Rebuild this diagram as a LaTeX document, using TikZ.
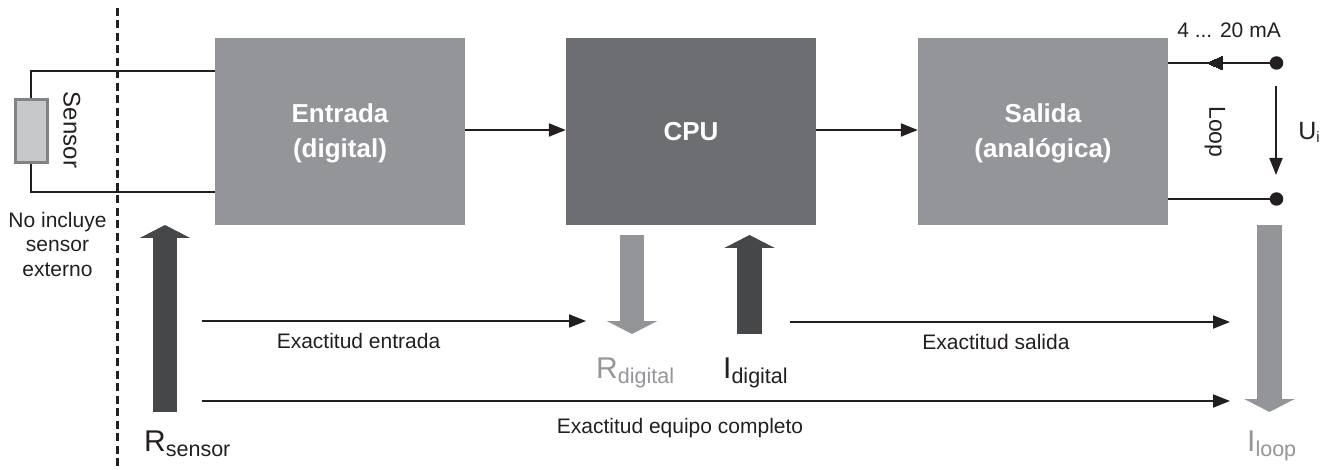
\documentclass[tikz,border=0pt]{standalone}
\usepackage{fontspec}
\setmainfont{Liberation Sans}
\usetikzlibrary{arrows.meta}
\definecolor{boxgray}{HTML}{939598}
\definecolor{cpugray}{HTML}{6D6E71}
\definecolor{darkarrow}{HTML}{464749}
\definecolor{sensorfill}{HTML}{C7C8CA}
\definecolor{sensorline}{HTML}{808285}
\definecolor{ink}{HTML}{231F20}
\newcommand{\subtxt}[2]{{\fontsize{30}{32}\selectfont #1}{\fontsize{21.5}{24}\selectfont\raisebox{-5pt}{#2}}}
\tikzset{
  x=1pt,y=-1pt,
  every node/.style={text=ink,font=\fontsize{21}{24.5}\selectfont,inner sep=0pt,align=center},
  block/.style={fill=boxgray,minimum width=250pt,minimum height=187pt},
  blocktext/.style={text=white,font=\fontsize{26}{35}\selectfont\bfseries},
  wire/.style={draw=ink,line width=2pt},
  thin arrow/.style={wire,-{Triangle[length=17pt,width=13pt]}},
  block arrow/.style={line width=24.5pt,-{Triangle[length=13pt,width=50pt]}},
  dot/.style={circle,fill=ink,minimum size=13.5pt},
}
\begin{document}
\begin{tikzpicture}
\useasboundingbox (0,0) rectangle (1330,470);
\draw[ink,line width=2.4pt,dash pattern=on 8pt off 4.5pt] (117.5,8) coordinate (d1) -- (117.5,470) coordinate (d2);

\node[block] (entrada) at (340,131.5) {};
\node[blocktext] (entradat) at (340,133) {Entrada\\(digital)};
\node[block,fill=cpugray] (cpu) at (691,131.5) {};
\node[blocktext] (cput) at (691,131.5) {CPU};
\node[block] (salida) at (1043,131.5) {};
\node[blocktext] (salidat) at (1043,133) {Salida\\(analógica)};

\node[draw=sensorline,fill=sensorfill,line width=3pt,minimum width=32.5pt,minimum height=63pt] (sensor) at (31.3,131) {};
\node[rotate=-90,font=\fontsize{24}{26}\selectfont] (sensorlabel) at (72,130) {Sensor};
\draw[wire] (sensor.north) |- (entrada.west |- 0,71);
\draw[wire] (sensor.south) |- (entrada.west |- 0,192);
\node (noinc) at (57.5,244) {No incluye\\sensor\\externo};

\draw[thin arrow] (entrada.east |- 0,130) -- (cpu.west |- 0,130);
\draw[thin arrow] (cpu.east |- 0,130) -- (salida.west |- 0,130);

\node[dot] (top) at (1276.5,63) {};
\node[dot] (bot) at (1276.5,199) {};
\draw[wire,line width=2.4pt] (top) -- (salida.east |- top);
\draw[ink,line width=0pt,fill=ink] (1207,63) coordinate (mh) -- (1222,56.5) -- (1222,69.5) -- cycle;
\draw[wire] (bot) -- (salida.east |- bot);
\coordinate (u1) at (1276,86);
\coordinate (u2) at (1276,175);
\draw[thin arrow] (u1) -- (u2);
\node (ma) at (1229,30.5) {4 ... 20 mA};
\node[rotate=-90,font=\fontsize{23}{25}\selectfont] (loop) at (1215,132) {Loop};
\node (ui) at (1309,132) {\fontsize{25}{27}\selectfont U\raisebox{-3pt}{\fontsize{15}{16}\selectfont i}};

\coordinate (a1) at (165,412); \coordinate (a2) at (165,225);
\draw[block arrow,darkarrow] (a1) -- (a2);
\coordinate (b1) at (632,235); \coordinate (b2) at (632,334);
\draw[block arrow,boxgray] (b1) -- (b2);
\coordinate (c1) at (749.5,334); \coordinate (c2) at (749.5,235);
\draw[block arrow,darkarrow] (c1) -- (c2);
\coordinate (e1) at (1269.5,225); \coordinate (e2) at (1269.5,412);
\draw[block arrow,boxgray] (e1) -- (e2);

\coordinate (l1) at (202,321); \coordinate (l2) at (586,321);
\draw[thin arrow] (l1) -- (l2);
\coordinate (l3) at (790,322); \coordinate (l4) at (1230,322);
\draw[thin arrow] (l3) -- (l4);
\coordinate (l5) at (202,401); \coordinate (l6) at (1230,401);
\draw[thin arrow] (l5) -- (l6);

\node (t1) at (358.5,341) {Exactitud entrada};
\node (t2) at (996,342) {Exactitud salida};
\node (t3) at (680,428) {Exactitud equipo completo};
\node[anchor=base west] (rs) at (144,451) {\subtxt{R}{sensor}};
\node[anchor=base west,text=boxgray] (rd) at (596,378) {\subtxt{R}{digital}};
\node[anchor=base west] (id) at (723,378) {\subtxt{I}{digital}};
\node[anchor=base west,text=boxgray] (il) at (1247,451) {\subtxt{I}{loop}};
\end{tikzpicture}
\end{document}
